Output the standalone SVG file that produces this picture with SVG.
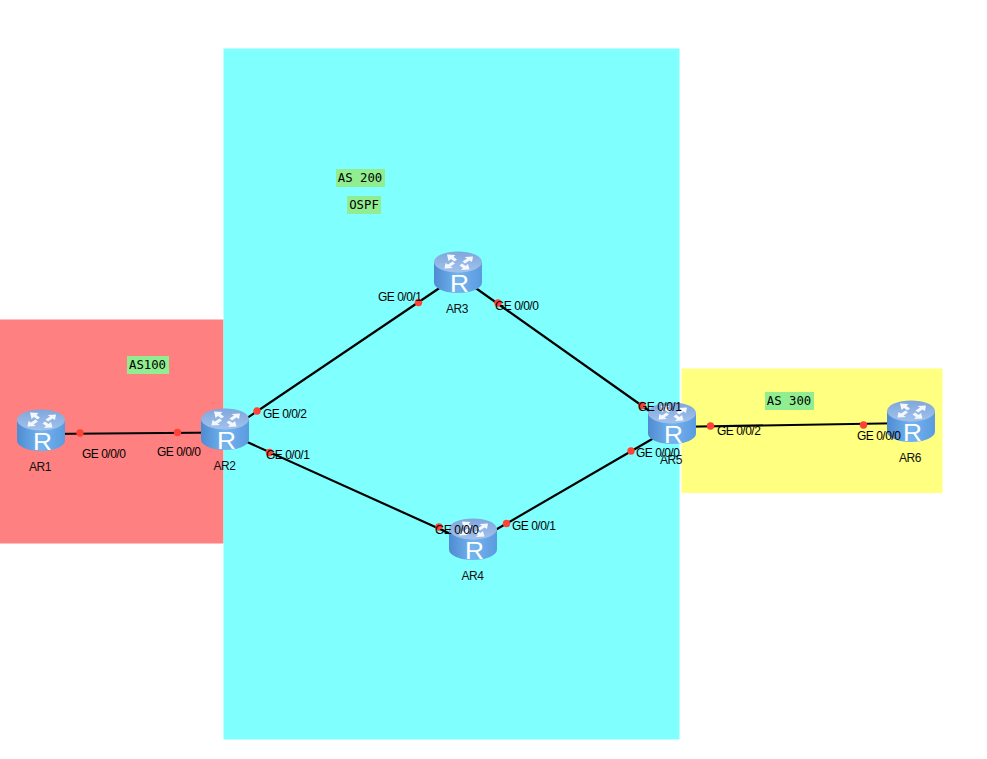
<svg xmlns="http://www.w3.org/2000/svg" width="987" height="759" viewBox="0 0 987 759">
<style>
.lbl{font-family:"Liberation Sans",Arial,sans-serif;font-size:12px;letter-spacing:-.5px;fill:#000}
.name{font-family:"Liberation Sans",Arial,sans-serif;font-size:12px;letter-spacing:-.4px;fill:#111;text-anchor:middle}
.tag{font-family:"DejaVu Sans Mono",monospace;font-size:12.300px;fill:#000;text-anchor:middle}
.tagbg{fill:#90ee90}
.link{stroke:#000;stroke-width:2.200;fill:none}
.dot{fill:#ff4136}
.glyph{font-family:"Liberation Sans",Arial,sans-serif;font-size:24px;fill:#fff;text-anchor:middle}
</style>
<defs>
<linearGradient id="body" x1="0" x2="1" y1="0" y2="0">
<stop offset="0" stop-color="#4e8bd2"/><stop offset="0.5" stop-color="#74b4ee"/><stop offset="1" stop-color="#5a9ae0"/>
</linearGradient>
<linearGradient id="top" x1="0" x2="0" y1="0" y2="1">
<stop offset="0" stop-color="#7fa6dc"/><stop offset="1" stop-color="#a2c2ec"/>
</linearGradient>
<g id="router">
<path d="M0 11V31.500A24 10.500 0 0 0 48 31.500V11Z" fill="url(#body)"/>
<ellipse cx="24" cy="11" rx="24" ry="10.500" fill="url(#top)"/>
<path d="M13 3.500l8.500.5-2 2 3.500 2.500-2.500 2-3.500-2.500-2.500 2ZM39 5.500l-1 5.500-2.500-1.500-4.500 3-2.500-2 4.500-3-2.500-1.500ZM35.500 18.500l-8.500.5 2-2-3.500-2.500 2.500-2 3.500 2.500 2.500-2ZM10.500 17.500l1-5.500 2.500 1.500 4.500-3 2.500 2-4.500 3 2.500 1.500Z" fill="#f4f8fd"/>
<text class="glyph" x="25.500" y="41" textLength="19" lengthAdjust="spacingAndGlyphs">R</text>
</g>
</defs>
<g id="zones">
<rect x="0" y="319.500" width="223.500" height="224" fill="#ff8080"/>
<rect x="223.500" y="48.500" width="456" height="691" fill="#80ffff"/>
<rect x="681.500" y="368.500" width="261" height="124.500" fill="#ffff80"/>
</g>
<g id="tags">
<rect class="tagbg" x="127" y="356" width="42" height="18"/><text class="tag" x="147.500" y="368.500">AS100</text>
<rect class="tagbg" x="336" y="169" width="49" height="18"/><text class="tag" x="360" y="181.500">AS 200</text>
<rect class="tagbg" x="347" y="196" width="34" height="18"/><text class="tag" x="364" y="208.500">OSPF</text>
<rect class="tagbg" x="765" y="392" width="49" height="18"/><text class="tag" x="789" y="404.500">AS 300</text>
</g>
<g id="connectors">
<path class="link" d="M41 434L225 432.500"/>
<path class="link" d="M225 433L458 275.500"/>
<path class="link" d="M225 432L473 544"/>
<path class="link" d="M458 275.500L672 427"/>
<path class="link" d="M473 543L672 427.500"/>
<path class="link" d="M672 427L911 423"/>
<circle class="dot" cx="80" cy="433" r="3.700"/>
<circle class="dot" cx="177.500" cy="432.500" r="3.700"/>
<circle class="dot" cx="257" cy="411" r="3.700"/>
<circle class="dot" cx="269.500" cy="452.500" r="3.700"/>
<circle class="dot" cx="418.500" cy="302.500" r="3.700"/>
<circle class="dot" cx="498" cy="303" r="3.700"/>
<circle class="dot" cx="439" cy="527" r="3.700"/>
<circle class="dot" cx="506.500" cy="523.500" r="3.700"/>
<circle class="dot" cx="642" cy="405.500" r="3.700"/>
<circle class="dot" cx="631" cy="451" r="3.700"/>
<circle class="dot" cx="710.500" cy="426" r="3.700"/>
<circle class="dot" cx="863.500" cy="425" r="3.700"/>
</g>
<g id="AR1"><use href="#router" x="17" y="409"/><text class="name" x="40" y="471">AR1</text></g>
<g id="AR2"><use href="#router" x="201" y="408"/><text class="name" x="224.500" y="470">AR2</text></g>
<g id="AR3"><use href="#router" x="434" y="251"/><text class="name" x="457" y="313">AR3</text></g>
<g id="AR4"><use href="#router" x="449" y="518"/><text class="name" x="472.500" y="580">AR4</text></g>
<g id="AR5"><use href="#router" x="648" y="402"/><text class="name" x="671" y="464">AR5</text></g>
<g id="AR6"><use href="#router" x="887" y="400"/><text class="name" x="910" y="462">AR6</text></g>
<g id="labels">
<text class="lbl" x="82" y="458">GE 0/0/0</text>
<text class="lbl" x="157" y="456">GE 0/0/0</text>
<text class="lbl" x="263" y="418">GE 0/0/2</text>
<text class="lbl" x="266" y="459">GE 0/0/1</text>
<text class="lbl" x="378" y="301">GE 0/0/1</text>
<text class="lbl" x="495" y="310">GE 0/0/0</text>
<text class="lbl" x="435" y="534">GE 0/0/0</text>
<text class="lbl" x="512" y="530">GE 0/0/1</text>
<text class="lbl" x="638" y="411">GE 0/0/1</text>
<text class="lbl" x="636" y="457">GE 0/0/0</text>
<text class="lbl" x="717" y="435">GE 0/0/2</text>
<text class="lbl" x="857" y="440">GE 0/0/0</text>
</g>
</svg>
